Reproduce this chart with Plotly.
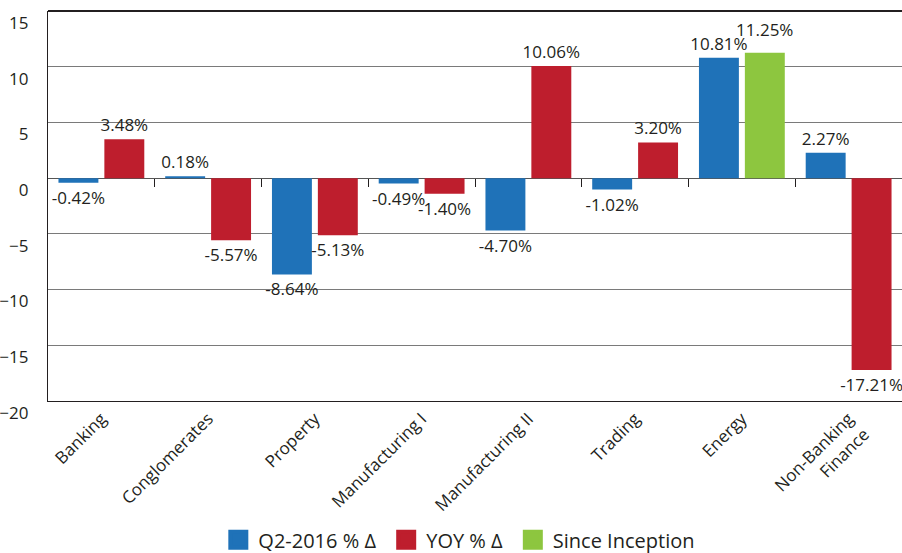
import plotly.graph_objects as go

categories = ["Banking", "Conglomerates", "Property", "Manufacturing I",
              "Manufacturing II", "Trading", "Energy", "Non-Banking<br>Finance"]
q2_2016 = [-0.42, 0.18, -8.64, -0.49, -4.70, -1.02, 10.81, 2.27]
yoy = [3.48, -5.57, -5.13, -1.40, 10.06, 3.20, None, -17.21]
since_inception = [None, None, None, None, None, None, 11.25, None]
series_names = ["Q2-2016 % Δ", "YOY % Δ", "Since Inception"]
y_ticks = [15, 10, 5, 0, -5, -10, -15, -20]
y_range = [-20, 15]

BLUE = "#1f72b8"
RED = "#be1e2d"
GREEN = "#8dc63f"
TXT = "#231f20"
FONT = "Open Sans"
colors = [BLUE, RED, GREEN]
BARGAP = 0.14
BARGROUPGAP = 0.13


def labels(vals):
    return [None if v is None else f"{v:.2f}%" for v in vals]


fig = go.Figure()
fig.add_trace(go.Bar(x=categories, y=q2_2016, name=series_names[0], marker_color=BLUE,
                     offsetgroup="a", text=labels(q2_2016), textposition="outside"))
fig.add_trace(go.Bar(x=categories, y=yoy, name=series_names[1], marker_color=RED,
                     offsetgroup="b", text=labels(yoy), textposition="outside"))
fig.add_trace(go.Bar(x=categories, y=since_inception, name=series_names[2],
                     marker_color=GREEN, offsetgroup="b", textposition="none"))
fig.update_traces(cliponaxis=False, showlegend=False,
                  textfont=dict(family=FONT, size=17, color=TXT),
                  constraintext="none", marker_line_width=0)

# legend-only entries with larger square swatches
for name, col in zip(series_names, colors):
    fig.add_trace(go.Scatter(x=[None], y=[None], mode="markers", name=name + " ",
                             marker=dict(symbol="square", size=16, color=col,
                                         line=dict(color=col, width=4)),
                             hoverinfo="skip"))

# invisible trace hosting the linear helper axis (ticks at zero)
boundaries = [i + 0.5 for i in range(len(categories))]
fig.add_trace(go.Scatter(x=[None], y=[None], xaxis="x2", showlegend=False,
                         hoverinfo="skip"))

# Since-Inception label, lifted so it clears the neighbouring label
annotations = []
for i, v in enumerate(since_inception):
    if v is not None:
        annotations.append(dict(
            xref="x2", yref="y", x=i + (1 - BARGAP) / 4, y=v,
            text=f"{v:.2f}%", showarrow=False, yanchor="bottom", yshift=10,
            font=dict(family=FONT, size=17, color=TXT)))

fig.update_layout(
    width=902, height=553,
    margin=dict(l=48, r=0, t=11, b=152),
    paper_bgcolor="white", plot_bgcolor="white",
    barmode="group", bargap=BARGAP, bargroupgap=BARGROUPGAP,
    font=dict(family=FONT, color=TXT),
    showlegend=True,
    legend=dict(orientation="h", x=0.512, xanchor="center", xref="container",
                y=0.024, yanchor="middle", yref="container",
                font=dict(family=FONT, size=20, color=TXT), traceorder="normal",
                itemwidth=30),
    xaxis=dict(type="category", range=[-0.5, len(categories) - 0.5],
               tickangle=-45, tickfont=dict(family=FONT, size=17, color=TXT),
               showline=True, linecolor="#231f20", linewidth=1.3,
               ticks="", showgrid=False, automargin=False),
    xaxis2=dict(overlaying="x", anchor="free",
                position=(0 - y_range[0]) / (y_range[1] - y_range[0]),
                range=[-0.5, len(categories) - 0.5], tickmode="array",
                tickvals=boundaries, ticks="outside", ticklen=8, tickwidth=1.3,
                tickcolor="#231f20", showticklabels=False, showline=False,
                showgrid=False, zeroline=False, automargin=False),
    yaxis=dict(range=y_range, tickmode="array", tickvals=y_ticks,
               tickfont=dict(family=FONT, size=17, color=TXT),
               showline=True, linecolor="#231f20", linewidth=1.3,
               gridcolor="#7a7a7a", gridwidth=1.3,
               zeroline=True, zerolinecolor="#555555", zerolinewidth=1.3,
               ticks="", ticklabelstandoff=15, ticklabelposition="outside bottom",
               ticklabeloverflow="allow", automargin=False),
    shapes=[dict(type="line", xref="paper", yref="paper", x0=0, x1=1, y0=1, y1=1,
                 layer="above", line=dict(color="#231f20", width=2))],
    annotations=annotations,
)

fig.write_html("out.html", config={"displayModeBar": False},
               post_script="document.body.style.margin='0';"
                           "document.body.style.overflow='hidden';")
